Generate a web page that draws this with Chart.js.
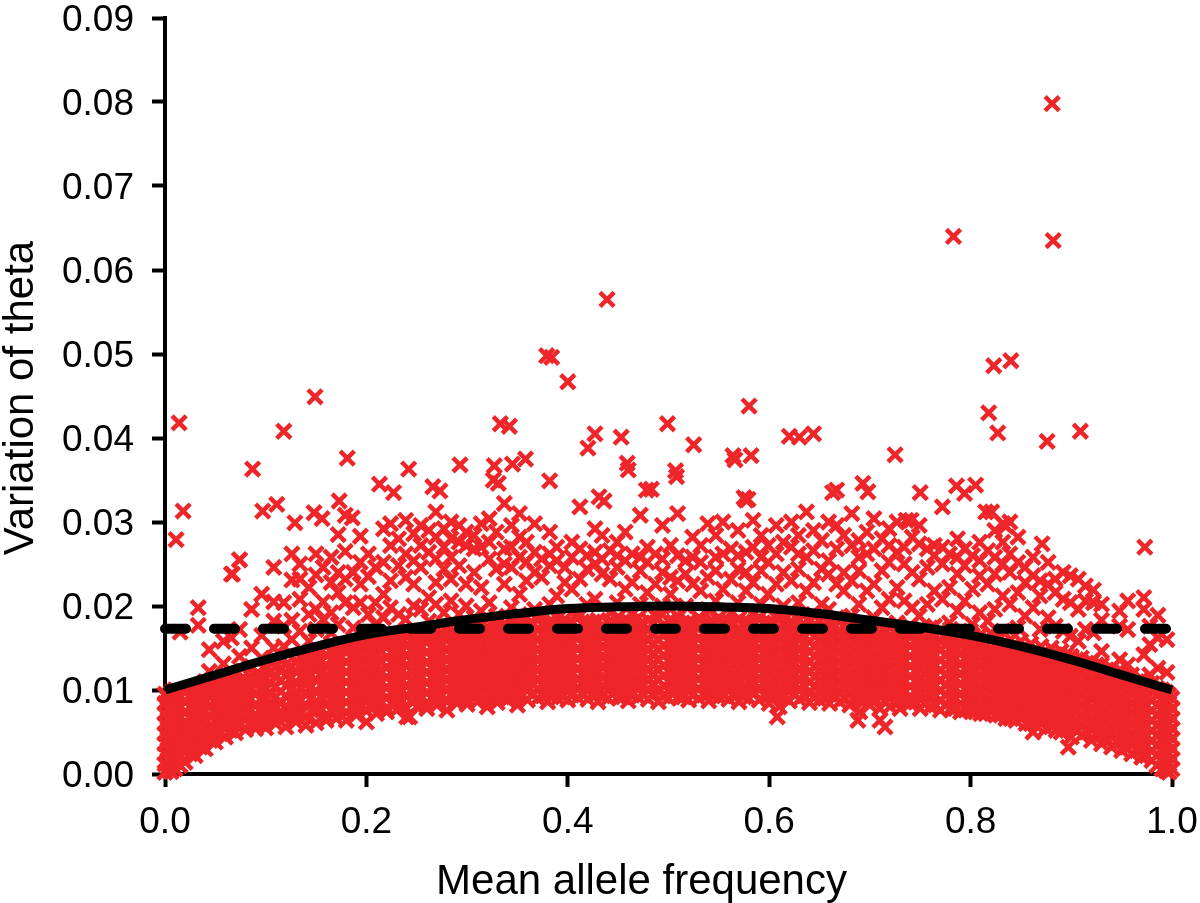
<!DOCTYPE html>
<html><head><meta charset="utf-8">
<style>html,body{margin:0;padding:0;background:#fff}canvas{display:block}</style>
<script src="https://cdn.jsdelivr.net/npm/chart.js@4/dist/chart.umd.min.js"></script>
</head><body><canvas id="c" width="1200" height="903"></canvas>
<script>
const xTickLabelsStep = 0.2, yTickStep = 0.01;
const xAxisTitle = "Mean allele frequency", yAxisTitle = "Variation of theta";
// frequency in units of 0.001, theta in units of 0.0001
const denseFreq = [0,3,6,10,15,20,30,40,50,60,70,80,90,100,110,120,130,140,150,160,170,180,190,200,210,220,230,240,250,260,270,280,290,300,310,320,330,340,350,360,370,380,390,400,410,420,430,440,450,460,470,480,490,500,510,520,530,540,550,560,570,580,590,600,610,620,630,640,650,660,670,680,690,700,710,720,730,740,750,760,770,780,790,800,810,820,830,840,850,860,870,880,890,900,910,920,930,940,950,960,970,980,985,990,994,997,1000];
const denseTheta = [
[2,12,24,36,48,60,72,84,95],[6,17,29,42,54,66,78,90],[3,14,26,38,50,62,74,86,97],[6,18,31,43,55,67,79,91,100],[10,21,33,45,57,69,81,93],[14,26,38,50,61,73,85,97],[22,33,45,57,68,80,92,103],[30,41,53,65,76,87,99,110],[38,50,62,73,85,97,108],[44,55,67,79,90,102,113],[49,60,72,84,96,107,118],[53,65,77,88,100,112],[54,60,71,83,95,106,118],[55,66,78,90,101,113,124],
[60,68,80,92,104,116,128],[56,69,81,93,105,117,130],[62,74,86,98,110,122,133],[58,69,82,94,106,118,130,140],[61,75,87,99,111,123,135,145],[64,70,82,94,106,118,130,142],[66,78,90,102,114,126,138,148],[64,73,85,97,109,121,133,145,152],[70,80,92,104,116,128,140,152],[62,75,86,98,110,122,134,146,157],[72,83,95,107,119,131,143,155,160],[74,79,91,103,115,127,139,151,162],[76,86,98,110,122,134,146,158,166],[68,78,92,104,116,128,140,152,164],[80,90,102,114,126,138,150,162,170],[78,85,97,109,121,133,145,157,168],[82,92,104,116,128,140,152,164,172],[76,86,99,111,123,135,147,159,171],[84,94,106,118,130,142,154,166,176],[83,90,102,114,126,138,150,162,174],[86,96,108,120,132,144,156,168,178],[80,91,103,115,127,139,151,163,175],[85,96,109,121,133,145,157,169,180],[88,92,104,116,128,140,152,164,176],[82,96,110,122,134,146,158,170,182],[88,99,105,117,129,141,153,165,177],[90,101,112,124,136,148,160,172,184],[86,96,107,119,131,143,155,167,179],[90,102,113,125,137,149,161,173,185],[88,98,108,120,132,144,156,168,180],
[91,103,114,126,138,150,162,174,186],[89,99,109,121,133,145,157,169,181],[86,97,110,122,134,146,158,170,183],[90,100,108,120,132,144,156,168,180],[92,103,115,127,139,151,163,175,187],[87,98,110,122,134,146,158,170,182],[91,104,116,128,140,152,164,176,186],[89,99,111,123,135,147,159,171,183],[86,98,112,124,136,148,160,172,185],[90,100,110,122,134,146,158,170,182],[92,103,115,127,139,151,163,175,187],[88,98,109,121,133,145,157,169,181],[90,102,114,126,138,150,162,174,186],[87,96,108,120,132,144,156,168,180],[91,103,115,127,139,151,163,175,186],[89,99,110,122,134,146,158,170,182],[86,97,112,124,136,148,160,172,185],[90,100,108,120,132,144,156,168,180],[88,102,114,126,138,150,162,174,186],[84,95,109,121,133,145,157,169,181],
[80,93,113,125,137,149,161,173,185],[87,99,108,120,132,144,156,168,180],[89,102,114,126,138,150,162,174,184],[85,96,109,121,133,145,157,169,181],[88,100,112,124,136,148,160,172,183],[84,95,107,119,131,143,155,167,179],[86,98,111,123,135,147,159,171,182],[82,94,106,118,130,142,154,166,178],[74,88,100,112,124,136,148,160,172],[82,91,103,115,127,139,151,163,175],[64,78,96,108,120,132,144,156,168],[80,90,102,114,126,138,150,162,174],[78,87,99,111,123,135,147,159,170],[84,93,105,117,129,141,153,165,176],[78,88,100,112,124,136,148,160,172],[80,92,104,116,128,140,152,164,174],[76,87,99,111,123,135,147,159,171],[78,90,102,114,126,138,150,162,172],[74,84,96,108,120,132,144,156,168],[76,88,100,112,124,136,148,160,170],[72,82,94,106,118,130,142,154,166],[74,86,98,110,122,134,146,158,168],[70,80,92,104,116,128,140,152,163],[66,78,90,102,114,126,138,150,160],[68,76,88,100,112,124,136,148,158],[60,72,84,96,108,120,132,144,155],[62,70,82,94,106,118,130,142,152],[56,67,79,91,103,115,127,139,150],[50,62,74,86,98,110,122,134,146],[44,56,68,80,92,104,116,128,140],[46,58,70,82,94,106,118,130,138],[40,52,64,76,88,100,112,124,134],[36,48,60,72,84,96,108,120,130],[32,44,56,68,80,92,104,116,126],[28,40,52,64,76,88,100,112,122],[24,35,47,59,71,83,95,107,118],[20,31,43,55,67,79,91,103,113],[16,27,39,51,63,75,87,99,108],[10,22,34,46,58,70,82,94,102],[6,18,30,42,54,66,78,90,100],[4,15,27,39,51,63,75,87,97],[2,12,24,36,48,60,72,84,94],[6,18,30,42,54,66,78,90]
];
const fillFreq = [25,35,45,55,65,75,85,95,105,115,125,135,145,155,165,175,185,195,205,215,225,235,245,255,265,275,285,295,305,315,325,335,345,355,365,375,385,395,405,415,425,435,445,455,465,475,485,495,505,515,525,535,545,555,565,575,585,595,605,615,625,635,645,655,665,675,685,695,705,715,725,735,745,755,765,775,785,795,805,815,825,835,845,855,865,875,885,895,905,915,925,935,945,955,965,975];
const fillTheta = [
[24,38,52,66,80,94],[32,46,60,74,88,102],[40,54,68,82,96,108],[48,60,74,88,102,112],[52,66,80,94,108],[58,72,86,100,112],[62,76,90,104,116],[60,74,88,102,116],[66,80,94,108,122],[70,84,98,112,126],[72,86,100,114,128],[72,88,102,116,130,138],[76,90,104,118,132,142],[78,92,106,120,134,146],[76,88,100,112,124,136,146],[80,92,104,116,128,140,150],[80,92,104,116,128,140,150],[82,94,106,118,130,142,154],[84,96,108,120,132,144,156],[86,98,110,122,134,146,158],[84,96,108,120,132,144,156,163],[88,100,112,124,136,148,160],[88,100,112,124,136,148,160,168],[92,104,116,128,140,152,164],[90,102,114,126,138,150,162,170],[94,106,118,130,142,154,166],
[96,108,120,132,144,156,168,174],[92,104,116,128,140,152,164,176],[97,109,121,133,145,157,169,178],[93,105,117,129,141,153,165,177],[96,108,120,132,144,156,168,180],[92,104,116,128,140,152,164,176],[97,109,121,133,145,157,169,181],[94,106,118,130,142,154,166,178],[96,108,120,132,144,156,168,180],[93,105,117,129,141,153,165,177],[97,109,121,133,145,157,169,181],[92,104,116,128,140,152,164,176],[96,108,120,132,144,156,168,180],[94,106,118,130,142,154,166,178],[97,109,121,133,145,157,169,181],[93,105,117,129,141,153,165,177],[96,108,120,132,144,156,168,180],[92,104,116,128,140,152,164,176],[97,109,121,133,145,157,169,181],[94,106,118,130,142,154,166,178],[96,108,120,132,144,156,168,180],[93,105,117,129,141,153,165,177],[97,109,121,133,145,157,169,181],[92,104,116,128,140,152,164,176],[96,108,120,132,144,156,168,180],[94,106,118,130,142,154,166,178],[97,109,121,133,145,157,169,181],[93,105,117,129,141,153,165,177],[96,108,120,132,144,156,168,180],[92,104,116,128,140,152,164,176],[97,109,121,133,145,157,169,181],[94,106,118,130,142,154,166,178],
[96,108,120,132,144,156,168,180],[92,104,116,128,140,152,164,176],[96,108,120,132,144,156,168,178],[93,105,117,129,141,153,165,176],[92,104,116,128,140,152,164,178],[90,102,114,126,138,150,162,174],[94,106,118,130,142,154,166,176],[90,102,114,126,138,150,162,174],[92,104,116,128,140,152,164,172],[88,100,112,124,136,148,160,170],[90,102,114,126,138,150,162,172],[86,98,110,122,134,146,158,170],[88,100,112,124,136,148,160,170],[86,98,110,122,134,146,158,168],[86,98,110,122,134,146,158,168],[84,96,108,120,132,144,156,166],[82,94,106,118,130,142,154,164],[82,94,106,118,130,142,154,162],[78,90,102,114,126,138,150,160],[76,88,100,112,124,136,148,158],[74,86,98,110,122,134,146,156],[72,84,96,108,120,132,144,154],[70,82,94,106,118,130,142,152],[66,78,90,102,114,126,138,148],[64,76,88,100,112,124,136,146],[60,72,84,96,108,120,132,144],[58,70,82,94,106,118,130,142],[54,66,78,90,102,114,126,138],[52,64,76,88,100,112,124,134],[58,70,82,94,106,118,130,142],[54,66,78,90,102,114,126,136],[50,62,74,86,98,110,122,132],[48,60,72,84,96,108,120,130],[42,54,66,78,90,102,114,124],[38,50,62,74,86,98,110,120],[32,44,56,68,80,92,104,116],[28,40,52,64,76,88,100,110],[22,34,46,58,70,82,94,106]
];
const looseFreq = [44,58,66,74,86,96,108,118,126,134,143,150,157,165,172,179,187,194,202,209,217,224,232,239,247,254,262,269,277,284,292,299,307,314,322,329,337,344,352,359,367,374,382,389,397,404,412,419,427,434,442,449,457,464,472,479,487,494,502,509,517,524,532,539,547,554,562,569,577,584,592,599,607,614,622,629,637,644,652,659,667,674,682,689,697,704,712,719,727,734,742,749,757,764,772,779,787,794,802,809,817,824,832,839,847,854,862,869,877,884,892,899,907,914,922,930,948,956,972,978,986,995];
const looseTheta = [
[122,148],[131,158],[122,162,238],[140,172,255],[128,150,196],[138,165,214],[150,182,205,246],[152,176,204],[160,183,231,262],[170,208,232,250],[158,190,222],[172,196,237,262],[184,205,246],[168,192,228,258],[178,216,240,285],[204,232,265],[174,198,240],[204,226,252,283],[190,235,262],[178,204,246],[186,214,252,292],[198,230,272,298],[190,248,280],[184,234,262,302],[200,226,254,286],[196,246,272,296],[182,210,264,290],[202,228,256,282,312],[192,244,270,292],[206,232,258,280,300],[190,248,276,296],[200,226,272,288],[186,240,268,284],[194,222,270,298],[204,256,276,304],[188,244,288],[226,250,268,322],[198,246,270,296],[190,214,258,282,310],[230,252,276],[196,240,264,298],[188,234,256],[202,248,262,288],[212,254,270],[184,228,246],[220,258,276],[190,232,268,318],[202,244,260],[208,250,264,292],[238,256,284],[192,232,266],[204,246,260,276],[220,254,288],[190,228,262],[202,242,258,308],[216,252,270],[188,226,262],[200,240,256,296],[214,234,272],[188,230,260,310],[200,238,254],[226,258,282],[184,218,252,272],[196,234,298],[206,242,258,284],[220,262,300],[192,232,268],[204,244,260,290],[218,240,264,326],[190,228,270,302],[202,242,258,284],[214,252,272],[186,226,262,296],[200,240,276],[192,230,270,300],[204,244,262,284],[218,258,312],[190,228,266,290],[202,244,278],[196,238,254,300],[186,226,268,296],[218,240,284],[188,230,272,310],[202,242,258,278],[218,262,288],[186,226,268,304],[198,242,280],[208,252,272,292],[180,222,264,300],[206,250,270],[198,240,282],[188,232,274,296],[202,246,268],[176,218,260,272],[208,250,270,318],[180,222,262],[194,238,258,280],[206,248,268,334],[178,220,260],[192,236,254,276],[182,226,266],[196,238,258,290],[170,212,250,276,298],[202,240,262],[174,216,252,282],[188,228,246],[198,236,258],[172,212,230],[186,226,252],[176,216,232],[170,208,240],[164,204,236],[158,196,232],[172,206,224],[168,204,219],[146,183,202],[136,176,194],[130,172,206],[142,196,210],[118,154,176],[126,162,189],[121,160]
];
const outlierFreq = [881,783,882,439,379,384,400,149,823,840,818,827,876,909,14,118,333,342,427,420,453,499,525,580,564,566,582,620,630,644,725,87,181,242,293,327,345,358,382,459,460,478,483,507,508,667,663,693,698,750,786,805,815,821,871,973,11,18,97,111,173,129,74,67,213,227,266,273,326,331,431,436,575,579,736,741,839,835,33,33,15,148,156,179,186];
const outlierTheta = [798,640,635,565,498,496,467,449,486,492,430,406,396,408,418,408,417,414,405,388,401,417,392,438,379,374,379,402,401,405,380,363,376,363,368,367,369,375,349,370,362,338,339,361,354,338,335,346,336,335,343,344,312,312,274,270,279,313,313,321,325,299,255,238,345,335,342,337,350,346,330,325,329,327,302,302,300,295,198,177,169,311,304,308,305];
const lowOutlierFreq = [243,608,715,688,897,862,970];
const lowOutlierTheta = [68,68,56,64,32,50,20];
const curveFreq = [0,0.05,0.1,0.15,0.2,0.25,0.3,0.35,0.4,0.45,0.5,0.55,0.6,0.65,0.7,0.75,0.8,0.85,0.9,0.95,1];
const curveTheta = [0.0100,0.0118,0.0136,0.0152,0.0166,0.0175,0.0184,0.0191,0.0197,0.0199,0.0200,0.0199,0.0197,0.0191,0.0183,0.0175,0.0165,0.0152,0.0136,0.0118,0.0100];
const meanFreq = [0,1];
const meanTheta = [0.0173,0.0173];

const points = [];
denseFreq.forEach((f,i)=>denseTheta[i].forEach(t=>points.push({x:f/1000,y:t/10000})));
fillFreq.forEach((f,i)=>fillTheta[i].forEach(t=>points.push({x:f/1000,y:t/10000})));
looseFreq.forEach((f,i)=>looseTheta[i].forEach(t=>points.push({x:f/1000,y:t/10000})));
outlierFreq.forEach((f,i)=>points.push({x:f/1000,y:outlierTheta[i]/10000}));
lowOutlierFreq.forEach((f,i)=>points.push({x:f/1000,y:lowOutlierTheta[i]/10000}));

const font = (s,lh) => ({family:"'Liberation Sans', Arial, sans-serif", size:s, lineHeight:lh});
function fixBox(s, dim, value, dx, dy){
  s[dim]=value; s.paddingTop=s.paddingBottom=s.paddingLeft=s.paddingRight=0;
  if(!s._shifted){ s._shifted=true; const d=s.drawTitle;
    s.drawTitle=function(){const c=this.ctx;c.save();c.translate(dx,dy);d.apply(this,arguments);c.restore();}; }
}
new Chart(document.getElementById('c'),{
  type:'scatter',
  data:{datasets:[
    {data:points,order:3,clip:false,pointStyle:'crossRot',pointRadius:10,pointBorderWidth:4.5,pointBorderColor:'#ee2529',pointBackgroundColor:'#ee2529',showLine:false},
    {data:meanFreq.map((x,i)=>({x,y:meanTheta[i]})),order:2,showLine:true,pointRadius:0,borderColor:'#000',borderWidth:10,borderDash:[21,28],borderCapStyle:'round',clip:false},
    {data:curveFreq.map((x,i)=>({x,y:curveTheta[i]})),order:1,showLine:true,pointRadius:0,borderColor:'#000',borderWidth:9,tension:0.4,clip:false}
  ]},
  options:{
    responsive:false,animation:false,devicePixelRatio:1,
    layout:{padding:{left:0,right:28,top:18,bottom:0}},
    plugins:{legend:{display:false},tooltip:{enabled:false}},
    scales:{
      x:{type:'linear',min:0,max:1,
        afterFit(s){fixBox(s,'height',129,-27,0);},
        border:{color:'#000',width:4},
        grid:{drawOnChartArea:false,color:'#000',tickLength:13,tickWidth:4},
        ticks:{stepSize:xTickLabelsStep,color:'#000',font:font(37,1.2),padding:14,maxRotation:0,callback:v=>v.toFixed(1)},
        title:{display:true,text:xAxisTitle,color:'#000',font:font(42,1),padding:{top:0,bottom:0}}},
      y:{type:'linear',min:0,max:0.09,
        afterFit(s){fixBox(s,'width',165,0,2);},
        border:{color:'#000',width:4},
        grid:{drawOnChartArea:false,color:'#000',tickLength:13,tickWidth:4},
        ticks:{stepSize:yTickStep,color:'#000',font:font(37,1),padding:18,labelOffset:3,callback:v=>v.toFixed(2)},
        title:{display:true,text:yAxisTitle,color:'#000',font:font(42,1),padding:{top:0,bottom:0}}}
    }
  }
});
</script></body></html>
